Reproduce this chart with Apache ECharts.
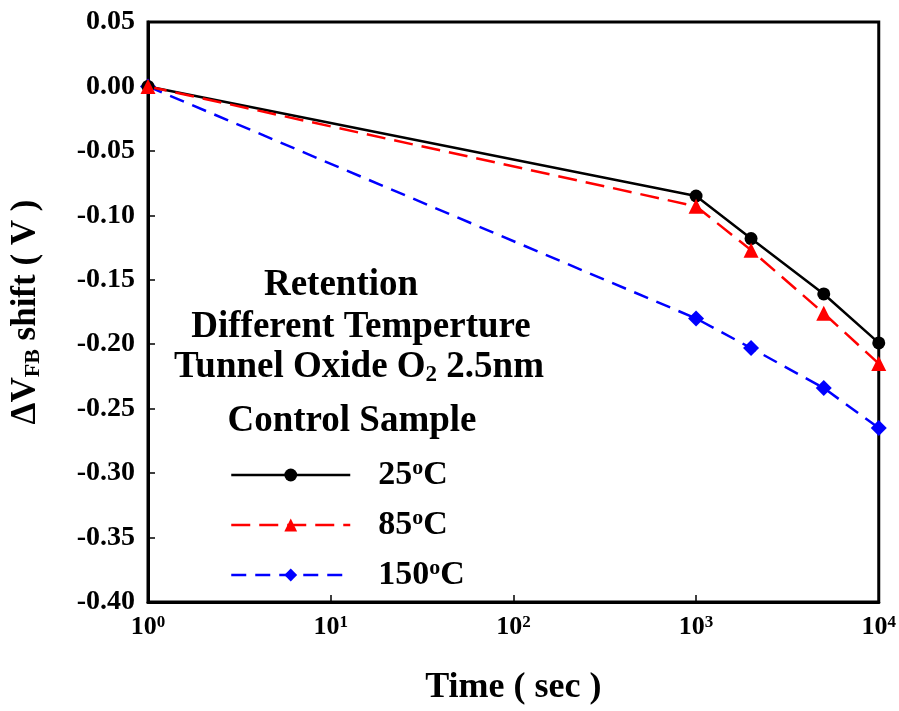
<!DOCTYPE html>
<html>
<head>
<meta charset="utf-8">
<script src="https://cdn.jsdelivr.net/npm/echarts@6/dist/echarts.min.js"></script>
<style>html,body{margin:0;padding:0;background:#fff}#c{width:899px;height:711px}</style>
</head>
<body>
<div id="c"></div>
<script>
const times = [1, 1000, 2000, 5000, 10000];
const shift25 = [0, -0.085, -0.118, -0.161, -0.199];
const shift85 = [0, -0.093, -0.127, -0.176, -0.215];
const shift150 = [0, -0.180, -0.203, -0.234, -0.265];
const seriesNames = ['25', '85', '150'];
const annotation = ['Retention', 'Different Temperture', 'Tunnel Oxide O', 'Control Sample'];

const F = '"Liberation Serif", "Times New Roman", serif';
const pair = (ys) => times.map((t, i) => [t, ys[i]]);
const txt = (s, x, y) => ({ type: 'text', x: x, y: y, style: { text: s, fontFamily: F, fontWeight: 'bold', fontSize: 37, fill: '#000', align: 'center', verticalAlign: 'middle' } });

const chart = echarts.init(document.getElementById('c'));
chart.setOption({
  animation: false,
  backgroundColor: '#fff',
  grid: { left: 148, right: 19, top: 22, bottom: 108, show: true, borderColor: '#000', borderWidth: 3 },
  xAxis: {
    type: 'log', logBase: 10, min: 1, max: 10000,
    axisLine: { onZero: false, lineStyle: { color: '#000', width: 3 } },
    axisTick: { inside: true, length: 7, lineStyle: { color: '#000', width: 1.5 } },
    minorTick: { show: false },
    splitLine: { show: false },
    axisLabel: {
      margin: 12,
      formatter: v => '{b|10}{s|' + Math.round(Math.log10(v)) + '}',
      rich: {
        b: { fontFamily: F, fontWeight: 'bold', fontSize: 26, color: '#000', lineHeight: 26 },
        s: { fontFamily: F, fontWeight: 'bold', fontSize: 17, color: '#000', lineHeight: 26, verticalAlign: 'top', padding: [0, 0, 10, 0] }
      }
    },
    name: 'Time ( sec )', nameLocation: 'middle', nameGap: 68,
    nameTextStyle: { fontFamily: F, fontWeight: 'bold', fontSize: 36, color: '#000' }
  },
  yAxis: {
    type: 'value', min: -0.40, max: 0.05, interval: 0.05,
    axisLine: { show: true, onZero: false, lineStyle: { color: '#000', width: 3 } },
    axisTick: { show: true, inside: true, length: 7, lineStyle: { color: '#000', width: 1.5 } },
    splitLine: { show: false },
    axisLabel: {
      margin: 13, color: '#000', fontFamily: F, fontWeight: 'bold', fontSize: 28,
      formatter: v => v.toFixed(2)
    },
    name: '{d|ΔV}{sub|FB}{d| shift ( V )}', nameLocation: 'middle', nameGap: 104, nameRotate: 90,
    nameTextStyle: {
      rich: {
        d: { fontFamily: F, fontWeight: 'bold', fontSize: 35, color: '#000', lineHeight: 36 },
        sub: { fontFamily: F, fontWeight: 'bold', fontSize: 22, color: '#000', lineHeight: 36, verticalAlign: 'bottom', padding: [12, 0, 0, 0] }
      }
    }
  },
  legend: {
    orient: 'vertical', left: 230, top: 457, padding: 0, itemWidth: 119, itemHeight: 16, itemGap: 15,
    lineStyle: { width: 2.5 },
    formatter: n => '{n|' + n + '}{s|o}{n|C}',
    textStyle: {
      padding: [0, 0, 0, 23],
      rich: {
        n: { fontFamily: F, fontWeight: 'bold', fontSize: 34, color: '#000', lineHeight: 36 },
        s: { fontFamily: F, fontWeight: 'bold', fontSize: 22, color: '#000', lineHeight: 36, verticalAlign: 'top', padding: [0, 0, 12, 0] }
      }
    },
    data: seriesNames
  },
  graphic: [
    txt(annotation[0], 341, 285),
    txt(annotation[1], 361, 327),
    { type: 'text', x: 359, y: 367, style: {
        text: '{a|' + annotation[2] + '}{s|2}{a| 2.5nm}', align: 'center', verticalAlign: 'middle',
        rich: {
          a: { fontFamily: F, fontWeight: 'bold', fontSize: 37, fill: '#000', lineHeight: 40 },
          s: { fontFamily: F, fontWeight: 'bold', fontSize: 23, fill: '#000', lineHeight: 40, verticalAlign: 'bottom', padding: [14, 0, 0, 0] }
        } } },
    txt(annotation[3], 352, 421)
  ],
  series: [
    { name: seriesNames[0], type: 'line', data: pair(shift25), symbol: 'circle', symbolSize: 13,
      itemStyle: { color: '#000' }, lineStyle: { color: '#000', width: 2.5, type: 'solid' } },
    { name: seriesNames[1], type: 'line', data: pair(shift85), symbol: 'triangle', symbolSize: 15,
      itemStyle: { color: '#ff0000' }, lineStyle: { color: '#ff0000', width: 2.5, type: [19, 9] } },
    { name: seriesNames[2], type: 'line', data: pair(shift150), symbol: 'diamond', symbolSize: 16,
      itemStyle: { color: '#0000ff' }, lineStyle: { color: '#0000ff', width: 2.5, type: [15, 9] }, z: 1 }
  ]
});
</script>
</body>
</html>
